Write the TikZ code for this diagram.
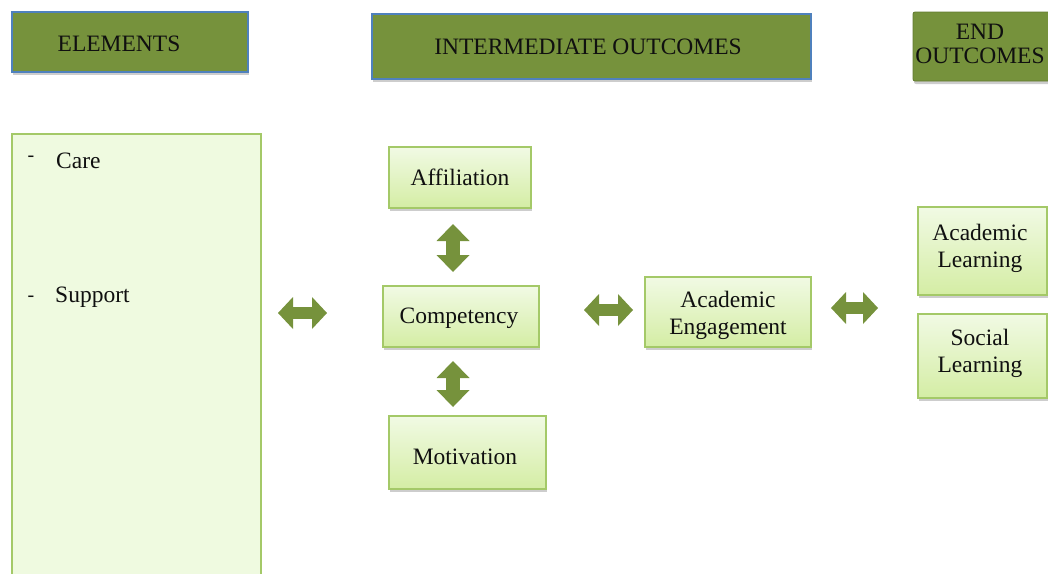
\documentclass[tikz,border=0pt]{standalone}
\usepackage{fontspec}
\setmainfont{Liberation Serif}
\usetikzlibrary{arrows.meta,shadows}

\definecolor{olivefill}{HTML}{76923C}
\definecolor{oliveline}{HTML}{617A2F}
\definecolor{headerline}{HTML}{4F81BD}
\definecolor{boxline}{HTML}{A4C968}
\definecolor{boxtop}{HTML}{F1FAE4}
\definecolor{boxbot}{HTML}{D4EDA4}
\definecolor{panelfill}{HTML}{EFFAE0}
\definecolor{inktext}{HTML}{101010}

\tikzset{
  txt/.style={text=inktext, font=\fontsize{23.5}{27}\selectfont, inner sep=0pt, align=center},
  softshadow/.style={drop shadow={shadow xshift=1pt, shadow yshift=-3pt, opacity=0.28, fill=black!70}},
  header/.style={draw=headerline, line width=1.1pt, fill=olivefill, softshadow, inner sep=0pt},
  endheader/.style={draw=oliveline, line width=0.8pt, fill=olivefill, rounded corners=2pt, softshadow, inner sep=0pt},
  greenbox/.style={draw=boxline, line width=1.1pt, top color=boxtop, bottom color=boxbot,
                   softshadow, inner sep=0pt},
  panel/.style={draw=boxline, line width=1.1pt, fill=panelfill, inner sep=0pt},
  bullet/.style={txt, font=\fontsize{20}{20}\selectfont},
  hlink/.style={draw=olivefill, line width=12pt,
    {Triangle[length=15pt,width=32pt,line width=0pt]}-{Triangle[length=15pt,width=32pt,line width=0pt]}},
  vlink/.style={draw=olivefill, line width=14pt,
    {Triangle[length=17pt,width=33pt,line width=0pt]}-{Triangle[length=17pt,width=33pt,line width=0pt]}},
}

\begin{document}
\begin{tikzpicture}[x=1pt,y=-1pt]
\useasboundingbox (0,0) rectangle (1048,573);
\clip (0,0) rectangle (1048,573);

% column headers
\node[header, minimum width=236, minimum height=60] (hel) at (130,42) {};
\node[txt] (helt) at (119,44) {ELEMENTS};
\node[header, minimum width=439, minimum height=65] (hio) at (591.5,46.5) {};
\node[txt] (hiot) at (588,46.5) {INTERMEDIATE OUTCOMES};
\node[endheader, minimum width=145, minimum height=69] (heo) at (985.5,46.5) {};
\node[txt, font=\fontsize{23.5}{24}\selectfont] (heot) at (980,43.5) {END\\OUTCOMES};

% elements panel
\node[panel, minimum width=249, minimum height=470] (elem) at (136.5,369) {};
\node[bullet] (d1) at (31,159) {-};
\node[txt, anchor=base west] (care) at (56,168) {Care};
\node[bullet] (d2) at (31,299) {-};
\node[txt, anchor=base west] (supp) at (55,302) {Support};

% intermediate outcomes
\node[greenbox, minimum width=142, minimum height=61] (aff) at (460,177.5) {};
\node[txt] (afft) at (460,177.5) {Affiliation};
\node[greenbox, minimum width=156, minimum height=61] (comp) at (461,316.5) {};
\node[txt] (compt) at (459,318.5) {Competency};
\node[greenbox, minimum width=157, minimum height=73] (mot) at (467.5,452.5) {};
\node[txt] (mott) at (465,457) {Motivation};
\node[greenbox, minimum width=166, minimum height=70] (eng) at (728,312) {};
\node[txt] (engt) at (728,315) {Academic\\Engagement};

% end outcomes
\node[greenbox, minimum width=129, minimum height=88] (alrn) at (982.5,251) {};
\node[txt] (alrnt) at (980,248) {Academic\\Learning};
\node[greenbox, minimum width=129, minimum height=84] (slrn) at (982.5,356) {};
\node[txt] (slrnt) at (980,353) {Social\\Learning};

% two-way links
\coordinate (la1) at (278,313);  \coordinate (la2) at (327,313);
\coordinate (ma1) at (584,310);  \coordinate (ma2) at (633,310);
\coordinate (ra1) at (831,308);  \coordinate (ra2) at (878,308);
\coordinate (ua1) at (453,224);  \coordinate (ua2) at (453,272);
\coordinate (da1) at (453,361);  \coordinate (da2) at (453,407);
\draw[hlink] (la1) -- (la2);
\draw[hlink] (ma1) -- (ma2);
\draw[hlink] (ra1) -- (ra2);
\draw[vlink] (ua1) -- (ua2);
\draw[vlink] (da1) -- (da2);
\end{tikzpicture}
\end{document}
